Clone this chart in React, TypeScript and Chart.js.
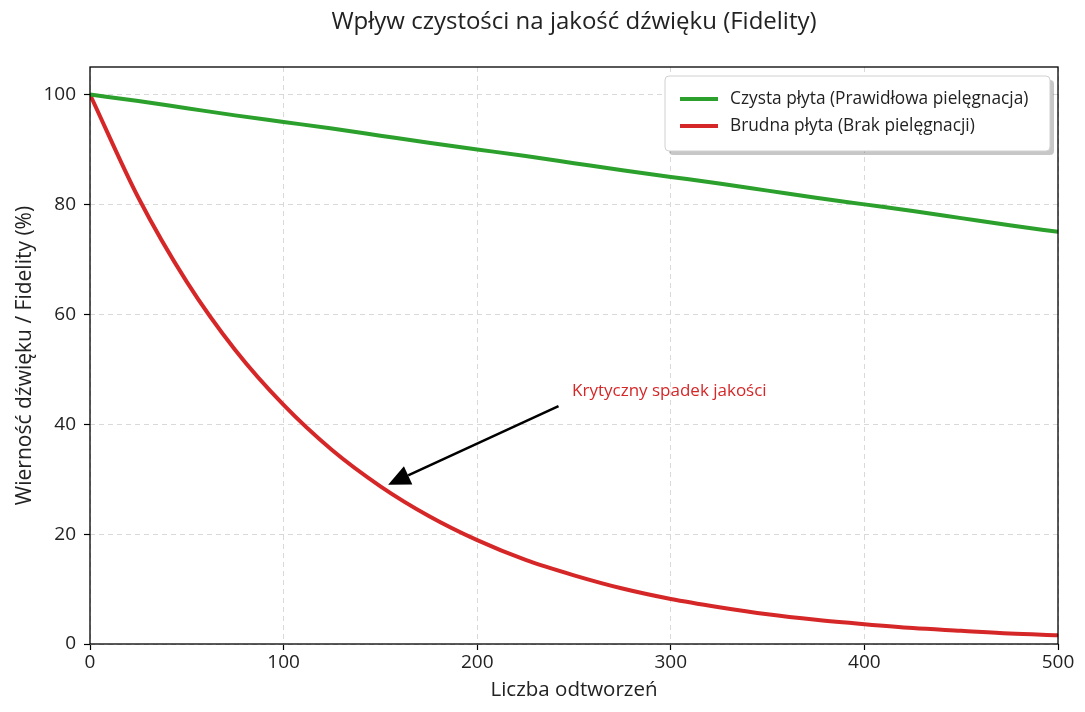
import Chart from "chart.js/auto"
import { useRef, useEffect } from "react"

const FONT = "'Open Sans', sans-serif"

const title = "Wpływ czystości na jakość dźwięku (Fidelity)"
const xTitle = "Liczba odtworzeń"
const yTitle = "Wierność dźwięku / Fidelity (%)"

const playCounts = [0, 25, 50, 75, 100, 125, 150, 175, 200, 225, 250, 275, 300, 325, 350, 375, 400, 425, 450, 475, 500]
const cleanFidelity = [100, 98.8, 97.5, 96.2, 95, 93.8, 92.5, 91.2, 90, 88.8, 87.5, 86.2, 85, 83.8, 82.5, 81.2, 80, 78.8, 77.5, 76.2, 75]
const dirtyFidelity = [100, 81.2, 65.9, 53.5, 43.5, 35.3, 28.7, 23.3, 18.9, 15.3, 12.5, 10.1, 8.2, 6.7, 5.4, 4.4, 3.6, 2.9, 2.4, 1.9, 1.6]

const seriesLabels = ["Czysta płyta (Prawidłowa pielęgnacja)", "Brudna płyta (Brak pielęgnacji)"]
const seriesColors = ["#2ca02c", "#d62728"]

const annotationText = "Krytyczny spadek jakości"
const annotationTextAt = [249, 46]
const arrowFrom = [242, 43.3]
const arrowTo = [154, 29]

const frame = {
    id: "frame",
    afterDraw(chart: any) {
        const { ctx, chartArea: a, scales } = chart
        ctx.save()
        ctx.strokeStyle = "#000"
        ctx.lineWidth = 1.3
        ctx.strokeRect(a.left, a.top, a.right - a.left, a.bottom - a.top)

        // title, centred over the plot area
        ctx.fillStyle = "#222"
        ctx.font = `24px ${FONT}`
        ctx.textAlign = "center"
        ctx.textBaseline = "middle"
        ctx.fillText(title, (a.left + a.right) / 2, 22)

        // annotation
        const x = scales.x, y = scales.y
        ctx.fillStyle = "#d62728"
        ctx.font = `17px ${FONT}`
        ctx.textAlign = "left"
        ctx.fillText(annotationText, x.getPixelForValue(annotationTextAt[0]), y.getPixelForValue(annotationTextAt[1]))

        const x1 = x.getPixelForValue(arrowFrom[0]), y1 = y.getPixelForValue(arrowFrom[1])
        const x2 = x.getPixelForValue(arrowTo[0]), y2 = y.getPixelForValue(arrowTo[1])
        const ang = Math.atan2(y2 - y1, x2 - x1)
        const headLen = 22, headW = 10
        const bx = x2 - headLen * Math.cos(ang), by = y2 - headLen * Math.sin(ang)
        ctx.strokeStyle = "#000"
        ctx.lineWidth = 2.5
        ctx.beginPath()
        ctx.moveTo(x1, y1)
        ctx.lineTo(bx, by)
        ctx.stroke()
        ctx.fillStyle = "#000"
        ctx.beginPath()
        ctx.moveTo(x2, y2)
        ctx.lineTo(bx + headW * Math.sin(ang), by - headW * Math.cos(ang))
        ctx.lineTo(bx - headW * Math.sin(ang), by + headW * Math.cos(ang))
        ctx.closePath()
        ctx.fill()

        // legend
        const lw = 385, lh = 75
        const lx = a.right - 8 - lw, ly = a.top + 9
        ctx.fillStyle = "rgba(0,0,0,0.22)"
        ctx.beginPath()
        ctx.roundRect(lx + 4, ly + 4, lw, lh, 4)
        ctx.fill()
        ctx.fillStyle = "#fff"
        ctx.strokeStyle = "#d0d0d0"
        ctx.lineWidth = 1
        ctx.beginPath()
        ctx.roundRect(lx, ly, lw, lh, 4)
        ctx.fill()
        ctx.stroke()
        ctx.font = `17.3px ${FONT}`
        ctx.textAlign = "left"
        ctx.textBaseline = "middle"
        seriesLabels.forEach((label, i) => {
            const rowY = ly + 23 + i * 27
            ctx.strokeStyle = seriesColors[i]
            ctx.lineWidth = 4
            ctx.beginPath()
            ctx.moveTo(lx + 15, rowY)
            ctx.lineTo(lx + 53, rowY)
            ctx.stroke()
            ctx.fillStyle = "#222"
            ctx.fillText(label, lx + 65, rowY)
        })
        ctx.restore()
    }
}

function App() {
    const chartInstance = useRef<Chart<"line">>(null)
    const canvasRef = useRef<HTMLCanvasElement>(null)

    useEffect(() => {
        document.body.style.margin = "0"
        const gridStyle = {
            color: "#d9d9d9",
            lineWidth: 1,
            tickLength: 6,
            tickColor: "#000",
            tickBorderDash: [],
            tickWidth: 1.2
        }
        const borderStyle = { display: false, dash: [5, 4] }
        const instance = new Chart(canvasRef.current, {
            type: "line",
            data: {
                datasets: [
                    {
                        label: seriesLabels[0],
                        data: playCounts.map((c, i) => ({ x: c, y: cleanFidelity[i] })),
                        borderColor: seriesColors[0],
                        borderWidth: 4,
                        pointRadius: 0,
                        cubicInterpolationMode: "monotone"
                    },
                    {
                        label: seriesLabels[1],
                        data: playCounts.map((c, i) => ({ x: c, y: dirtyFidelity[i] })),
                        borderColor: seriesColors[1],
                        borderWidth: 4,
                        pointRadius: 0,
                        cubicInterpolationMode: "monotone"
                    }
                ]
            },
            options: {
                animation: false,
                responsive: false,
                layout: { padding: { left: 0, right: 27, top: 67, bottom: 0 } },
                plugins: {
                    legend: { display: false },
                    tooltip: { enabled: false },
                    title: { display: false }
                },
                scales: {
                    x: {
                        type: "linear",
                        min: 0,
                        max: 500,
                        ticks: { stepSize: 100, color: "#222", font: { family: FONT, size: 19 }, padding: 1, maxRotation: 0 },
                        grid: gridStyle,
                        border: borderStyle,
                        title: { display: true, text: xTitle, color: "#222", font: { family: FONT, size: 20.5 }, padding: { top: 2, bottom: 10 } },
                        afterFit: (s: any) => { s.height = 68 }
                    },
                    y: {
                        min: 0,
                        max: 105,
                        ticks: { stepSize: 20, color: "#222", font: { family: FONT, size: 19 }, padding: 8 },
                        grid: gridStyle,
                        border: borderStyle,
                        title: { display: true, text: yTitle, color: "#222", font: { family: FONT, size: 21 }, padding: { top: 12, bottom: 2 } },
                        afterBuildTicks: (s: any) => { s.ticks = s.ticks.filter((t: any) => t.value <= 100) },
                        afterFit: (s: any) => { s.width = 90 }
                    }
                }
            },
            plugins: [frame]
        })
        chartInstance.current = instance
        return () => {
            instance.destroy()
        }
    }, [])

    return (
        <div style={{ width: 1085, height: 712, background: "#fff" }}>
            <canvas ref={canvasRef} width={1085} height={712}></canvas>
        </div>
    )
}

export default App
